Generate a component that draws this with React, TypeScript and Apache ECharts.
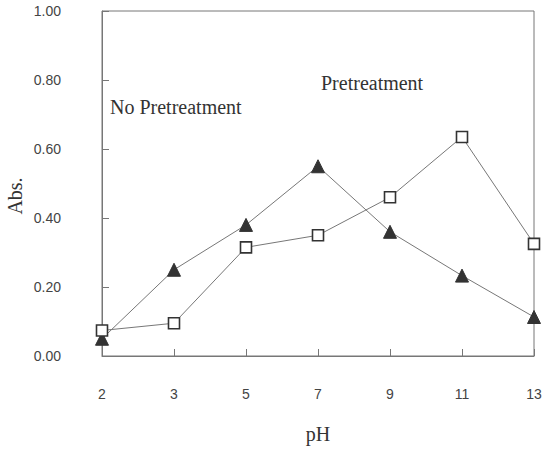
import React, { useEffect, useRef } from "react";
import * as echarts from "echarts";

const phCategories = ["2", "3", "5", "7", "9", "11", "13"];
const noPretreatment = [0.05, 0.25, 0.38, 0.55, 0.36, 0.233, 0.113];
const pretreatment = [0.074, 0.095, 0.315, 0.35, 0.46, 0.635, 0.325];
const yTicks = { min: 0, max: 1, interval: 0.2 };

export default function App() {
  const ref = useRef<HTMLDivElement>(null);
  useEffect(() => {
    if (!ref.current) return;
    const chart = echarts.init(ref.current, null, { renderer: "svg" });
    const sans = "Liberation Sans";
    const serif = "Liberation Serif";
    chart.setOption({
      animation: false,
      backgroundColor: "#ffffff",
      grid: {
        left: 102,
        right: 14,
        top: 11,
        bottom: 90,
        show: true,
        borderColor: "#777",
        borderWidth: 1,
        backgroundColor: "transparent",
      },
      xAxis: {
        type: "category",
        data: phCategories,
        boundaryGap: false,
        name: "pH",
        nameLocation: "middle",
        nameGap: 68,
        nameTextStyle: { fontFamily: serif, fontSize: 20, color: "#333" },
        axisLine: { lineStyle: { color: "#777", width: 1 } },
        axisTick: { inside: true, length: 7, alignWithLabel: true, lineStyle: { color: "#777" } },
        axisLabel: { margin: 31, fontFamily: sans, fontSize: 14, color: "#444" },
        splitLine: { show: false },
      },
      yAxis: {
        type: "value",
        min: yTicks.min,
        max: yTicks.max,
        interval: yTicks.interval,
        axisLine: { show: true, lineStyle: { color: "#777", width: 1 } },
        axisTick: { show: true, inside: true, length: 7, lineStyle: { color: "#777" } },
        axisLabel: {
          margin: 41,
          fontFamily: sans,
          fontSize: 14,
          color: "#444",
          formatter: (v: number) => v.toFixed(2),
        },
        splitLine: { show: false },
      },
      series: [
        {
          name: "No Pretreatment",
          type: "line",
          data: noPretreatment,
          symbol: "triangle",
          symbolSize: 13,
          itemStyle: { color: "#333", borderColor: "#333", borderWidth: 1 },
          lineStyle: { color: "#777", width: 1 },
          z: 2,
        },
        {
          name: "Pretreatment",
          type: "line",
          data: pretreatment,
          symbol: "rect",
          symbolSize: 11,
          itemStyle: { color: "#fff", borderColor: "#333", borderWidth: 1.6 },
          lineStyle: { color: "#777", width: 1 },
          z: 3,
        },
      ],
      graphic: [
        {
          type: "text",
          left: 110,
          top: 97,
          style: { text: "No Pretreatment", fontFamily: serif, fontSize: 20, fill: "#333" },
        },
        {
          type: "text",
          left: 321,
          top: 73,
          style: { text: "Pretreatment", fontFamily: serif, fontSize: 20, fill: "#333" },
        },
        {
          type: "text",
          x: 15,
          y: 196,
          rotation: Math.PI / 2,
          style: {
            text: "Abs.",
            fontFamily: serif,
            fontSize: 20,
            fill: "#333",
            align: "center",
            verticalAlign: "middle",
          },
        },
      ],
    });
    return () => chart.dispose();
  }, []);
  return (
    <div
      ref={ref}
      style={{ position: "fixed", left: 0, top: 0, width: 548, height: 449 }}
    />
  );
}
